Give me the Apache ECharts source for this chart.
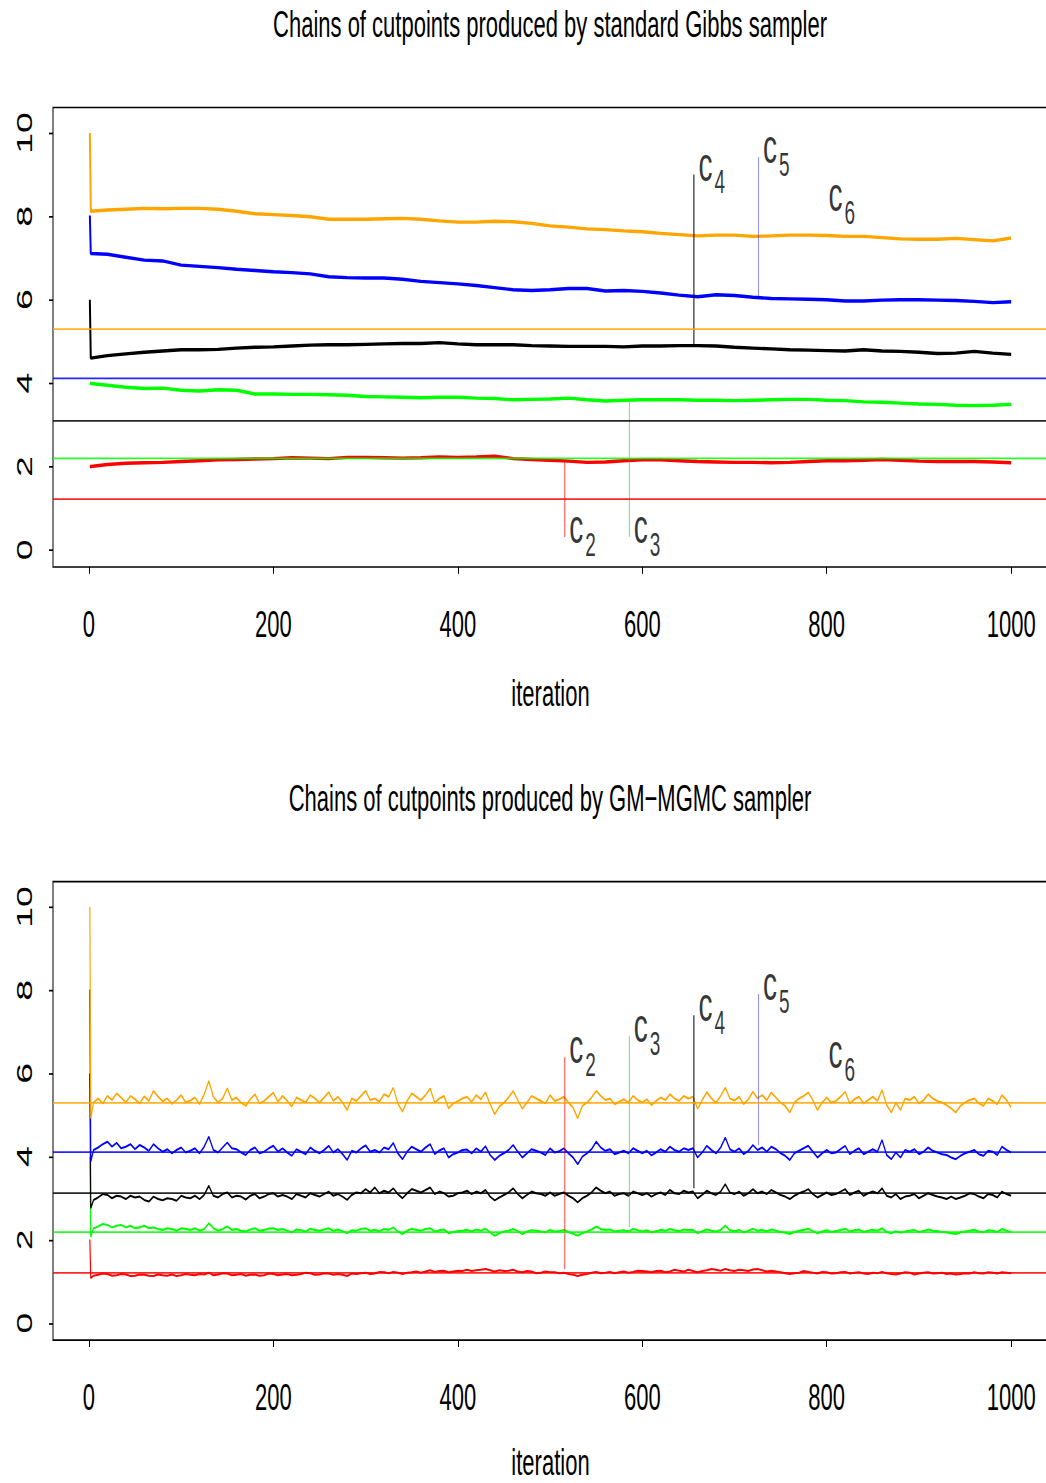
<!DOCTYPE html>
<html>
<head>
<meta charset="utf-8">
<title>Chains of cutpoints</title>
<script src="https://cdn.jsdelivr.net/npm/echarts@6/dist/echarts.min.js"></script>
<style>
    html, body { margin: 0; padding: 0; background: #fff; overflow: hidden; }
    #wrap { width: 1046px; height: 1483px; overflow: hidden; }
    /* the reference picture is stretched vertically, so the chart is drawn flat and scaled */
    #chart { width: 1046px; height: 872px; transform: scaleY(1.700688); transform-origin: 0 0; }
</style>
</head>
<body>
<div id="wrap"><div id="chart"></div></div>
<script>
const FONT = 'Liberation Sans, Arial, Helvetica, sans-serif'

// ---- top panel: standard Gibbs sampler ----
const topIter = [1, 2, 20, 40, 60, 80, 100, 120, 140, 160, 180, 200, 220, 240, 260, 280, 300,
    320, 340, 360, 380, 400, 420, 440, 460, 480, 500, 520, 540, 560, 580, 600, 620, 640, 660,
    680, 700, 720, 740, 760, 780, 800, 820, 840, 860, 880, 900, 920, 940, 960, 980, 1000]

const topRed = [2.00, 2.00, 2.05, 2.08, 2.09, 2.10, 2.12, 2.14, 2.16, 2.17, 2.18, 2.19, 2.21, 2.20,
    2.19, 2.22, 2.22, 2.21, 2.20, 2.21, 2.23, 2.22, 2.23, 2.25, 2.19, 2.17, 2.15, 2.13, 2.10, 2.11,
    2.14, 2.16, 2.16, 2.14, 2.12, 2.11, 2.10, 2.10, 2.09, 2.10, 2.12, 2.14, 2.14, 2.15, 2.17, 2.15,
    2.13, 2.12, 2.12, 2.12, 2.11, 2.09]
const topGreen = [4.00, 3.99, 3.95, 3.90, 3.87, 3.88, 3.83, 3.81, 3.84, 3.83, 3.74, 3.74, 3.73, 3.73,
    3.72, 3.71, 3.68, 3.67, 3.66, 3.65, 3.66, 3.66, 3.64, 3.63, 3.60, 3.61, 3.62, 3.64, 3.60, 3.57,
    3.59, 3.60, 3.60, 3.60, 3.59, 3.59, 3.58, 3.59, 3.60, 3.61, 3.61, 3.59, 3.58, 3.55, 3.54, 3.52,
    3.50, 3.49, 3.47, 3.46, 3.47, 3.49]
const topBlack = [6.00, 4.60, 4.66, 4.70, 4.74, 4.77, 4.80, 4.80, 4.81, 4.84, 4.86, 4.87, 4.89, 4.91,
    4.92, 4.92, 4.93, 4.94, 4.95, 4.95, 4.97, 4.94, 4.92, 4.92, 4.92, 4.90, 4.89, 4.88, 4.88, 4.88,
    4.87, 4.89, 4.89, 4.90, 4.90, 4.89, 4.86, 4.84, 4.82, 4.80, 4.79, 4.78, 4.77, 4.80, 4.77, 4.76,
    4.74, 4.71, 4.72, 4.76, 4.72, 4.69]
const topBlue = [8.02, 7.11, 7.09, 7.02, 6.95, 6.93, 6.83, 6.80, 6.77, 6.73, 6.70, 6.67, 6.65, 6.62,
    6.55, 6.53, 6.52, 6.52, 6.49, 6.44, 6.41, 6.38, 6.34, 6.29, 6.24, 6.22, 6.24, 6.27, 6.27, 6.21,
    6.22, 6.20, 6.16, 6.11, 6.07, 6.12, 6.10, 6.06, 6.03, 6.02, 6.01, 6.00, 5.97, 5.97, 5.99, 6.00,
    6.00, 5.99, 5.98, 5.96, 5.93, 5.95]
const topOrange = [10.0, 8.12, 8.15, 8.17, 8.19, 8.18, 8.19, 8.19, 8.17, 8.12, 8.06, 8.04, 8.02, 7.99,
    7.93, 7.93, 7.93, 7.94, 7.95, 7.93, 7.89, 7.86, 7.86, 7.88, 7.87, 7.83, 7.77, 7.74, 7.70, 7.68,
    7.65, 7.63, 7.59, 7.56, 7.53, 7.55, 7.55, 7.52, 7.53, 7.55, 7.55, 7.54, 7.52, 7.52, 7.49, 7.46,
    7.45, 7.45, 7.47, 7.44, 7.41, 7.48]

// ---- bottom panel: GM-MGMC sampler ----
const botIter = [1, 2,
    5, 10, 15, 20, 25, 30, 35, 40, 45, 50,
    55, 60, 65, 70, 75, 80, 85, 90, 95, 100,
    105, 110, 115, 120, 125, 130, 135, 140, 145, 150,
    155, 160, 165, 170, 175, 180, 185, 190, 195, 200,
    205, 210, 215, 220, 225, 230, 235, 240, 245, 250,
    255, 260, 265, 270, 275, 280, 285, 290, 295, 300,
    305, 310, 315, 320, 325, 330, 335, 340, 345, 350,
    355, 360, 365, 370, 375, 380, 385, 390, 395, 400,
    405, 410, 415, 420, 425, 430, 435, 440, 445, 450,
    455, 460, 465, 470, 475, 480, 485, 490, 495, 500,
    505, 510, 515, 520, 525, 530, 535, 540, 545, 550,
    555, 560, 565, 570, 575, 580, 585, 590, 595, 600,
    605, 610, 615, 620, 625, 630, 635, 640, 645, 650,
    655, 660, 665, 670, 675, 680, 685, 690, 695, 700,
    705, 710, 715, 720, 725, 730, 735, 740, 745, 750,
    755, 760, 765, 770, 775, 780, 785, 790, 795, 800,
    805, 810, 815, 820, 825, 830, 835, 840, 845, 850,
    855, 860, 865, 870, 875, 880, 885, 890, 895, 900,
    905, 910, 915, 920, 925, 930, 935, 940, 945, 950,
    955, 960, 965, 970, 975, 980, 985, 990, 995, 1000]

const botRed = [2.01, 1.08,
    1.14, 1.16, 1.19, 1.18, 1.14, 1.15, 1.18, 1.17, 1.13, 1.14,
    1.17, 1.16, 1.14, 1.13, 1.17, 1.15, 1.14, 1.17, 1.13, 1.15,
    1.18, 1.16, 1.15, 1.18, 1.17, 1.21, 1.15, 1.17, 1.20, 1.19,
    1.15, 1.16, 1.18, 1.14, 1.16, 1.17, 1.14, 1.15, 1.19, 1.18,
    1.15, 1.17, 1.18, 1.15, 1.16, 1.18, 1.21, 1.20, 1.16, 1.17,
    1.20, 1.19, 1.16, 1.18, 1.16, 1.13, 1.19, 1.18, 1.20, 1.21,
    1.18, 1.19, 1.23, 1.22, 1.20, 1.23, 1.21, 1.18, 1.21, 1.22,
    1.24, 1.21, 1.24, 1.27, 1.23, 1.25, 1.26, 1.22, 1.24, 1.26,
    1.25, 1.28, 1.25, 1.27, 1.28, 1.30, 1.27, 1.24, 1.27, 1.25,
    1.26, 1.28, 1.24, 1.22, 1.25, 1.24, 1.20, 1.21, 1.24, 1.22,
    1.22, 1.20, 1.21, 1.18, 1.16, 1.13, 1.16, 1.18, 1.21, 1.23,
    1.20, 1.21, 1.23, 1.20, 1.22, 1.24, 1.21, 1.23, 1.26, 1.25,
    1.24, 1.22, 1.25, 1.26, 1.22, 1.24, 1.28, 1.26, 1.24, 1.28,
    1.25, 1.22, 1.25, 1.27, 1.30, 1.28, 1.26, 1.30, 1.27, 1.25,
    1.28, 1.27, 1.25, 1.29, 1.30, 1.27, 1.24, 1.26, 1.24, 1.22,
    1.20, 1.18, 1.20, 1.21, 1.25, 1.23, 1.21, 1.19, 1.23, 1.22,
    1.19, 1.20, 1.22, 1.23, 1.19, 1.21, 1.22, 1.19, 1.18, 1.21,
    1.20, 1.23, 1.20, 1.18, 1.17, 1.19, 1.22, 1.21, 1.17, 1.19,
    1.21, 1.22, 1.19, 1.20, 1.21, 1.18, 1.19, 1.17, 1.18, 1.20,
    1.19, 1.22, 1.20, 1.19, 1.22, 1.21, 1.19, 1.22, 1.21, 1.20]
const botGreen = [4.00, 2.07,
    2.28, 2.32, 2.38, 2.36, 2.30, 2.34, 2.36, 2.30, 2.34, 2.28,
    2.30, 2.34, 2.28, 2.30, 2.26, 2.24, 2.28, 2.26, 2.22, 2.28,
    2.26, 2.24, 2.28, 2.22, 2.26, 2.40, 2.28, 2.22, 2.26, 2.32,
    2.24, 2.26, 2.22, 2.20, 2.25, 2.28, 2.22, 2.24, 2.27, 2.28,
    2.24, 2.26, 2.22, 2.18, 2.25, 2.23, 2.20, 2.27, 2.24, 2.22,
    2.25, 2.28, 2.22, 2.25, 2.21, 2.16, 2.23, 2.22, 2.26, 2.28,
    2.22, 2.24, 2.21, 2.26, 2.24, 2.30, 2.20, 2.14, 2.22, 2.27,
    2.24, 2.22, 2.26, 2.28, 2.20, 2.23, 2.25, 2.16, 2.19, 2.21,
    2.22, 2.24, 2.20, 2.25, 2.22, 2.27, 2.18, 2.10, 2.16, 2.20,
    2.22, 2.26, 2.21, 2.14, 2.20, 2.23, 2.22, 2.20, 2.18, 2.24,
    2.20, 2.21, 2.24, 2.19, 2.15, 2.10, 2.16, 2.20, 2.25, 2.32,
    2.26, 2.24, 2.25, 2.20, 2.22, 2.23, 2.20, 2.26, 2.23, 2.20,
    2.23, 2.18, 2.21, 2.24, 2.22, 2.26, 2.23, 2.21, 2.25, 2.23,
    2.24, 2.16, 2.21, 2.25, 2.22, 2.20, 2.24, 2.34, 2.23, 2.21,
    2.24, 2.18, 2.22, 2.27, 2.22, 2.24, 2.21, 2.25, 2.22, 2.19,
    2.17, 2.14, 2.19, 2.22, 2.24, 2.27, 2.21, 2.16, 2.20, 2.23,
    2.19, 2.21, 2.24, 2.27, 2.20, 2.23, 2.25, 2.19, 2.22, 2.24,
    2.22, 2.28, 2.19, 2.16, 2.21, 2.17, 2.20, 2.22, 2.24, 2.19,
    2.21, 2.25, 2.22, 2.21, 2.19, 2.18, 2.16, 2.14, 2.18, 2.20,
    2.22, 2.24, 2.20, 2.18, 2.23, 2.22, 2.19, 2.26, 2.22, 2.19]
const botBlack = [6.00, 2.76,
    2.96, 3.02, 3.10, 3.08, 3.00, 3.06, 3.04, 2.98, 3.06, 3.02,
    3.04, 2.96, 2.92, 3.04, 2.98, 2.95, 3.00, 2.98, 2.94, 3.06,
    3.02, 3.00, 3.06, 2.98, 3.08, 3.30, 3.06, 3.02, 3.10, 3.14,
    3.02, 3.06, 3.04, 2.97, 3.06, 3.10, 3.00, 3.04, 3.10, 3.12,
    3.04, 3.08, 3.04, 2.98, 3.10, 3.06, 3.02, 3.12, 3.08, 3.04,
    3.10, 3.16, 3.06, 3.10, 3.04, 2.96, 3.08, 3.14, 3.12, 3.22,
    3.14, 3.26, 3.12, 3.18, 3.14, 3.24, 3.10, 3.00, 3.12, 3.22,
    3.18, 3.14, 3.20, 3.26, 3.10, 3.16, 3.12, 3.04, 3.06, 3.12,
    3.14, 3.18, 3.10, 3.16, 3.12, 3.20, 3.04, 2.95, 3.02, 3.08,
    3.14, 3.24, 3.10, 3.00, 3.08, 3.16, 3.12, 3.10, 3.06, 3.14,
    3.06, 3.10, 3.14, 3.06, 3.00, 2.90, 3.00, 3.06, 3.14, 3.26,
    3.18, 3.12, 3.16, 3.06, 3.10, 3.12, 3.06, 3.16, 3.12, 3.08,
    3.12, 3.04, 3.10, 3.14, 3.08, 3.20, 3.12, 3.10, 3.18, 3.14,
    3.16, 3.00, 3.08, 3.18, 3.12, 3.08, 3.16, 3.34, 3.14, 3.10,
    3.16, 3.06, 3.12, 3.22, 3.12, 3.16, 3.10, 3.20, 3.14, 3.08,
    3.04, 2.98, 3.06, 3.12, 3.16, 3.22, 3.10, 3.02, 3.08, 3.14,
    3.08, 3.10, 3.16, 3.22, 3.08, 3.14, 3.18, 3.06, 3.12, 3.16,
    3.12, 3.24, 3.06, 3.02, 3.10, 2.98, 3.04, 3.06, 3.10, 3.00,
    3.06, 3.12, 3.08, 3.04, 3.02, 2.98, 3.04, 2.98, 3.02, 3.06,
    3.12, 3.10, 3.04, 3.00, 3.10, 3.08, 3.02, 3.16, 3.10, 3.06]
const botBlue = [8.02, 3.88,
    4.16, 4.22, 4.30, 4.36, 4.24, 4.33, 4.20, 4.24, 4.30, 4.18,
    4.28, 4.22, 4.14, 4.30, 4.20, 4.12, 4.18, 4.08, 4.16, 4.22,
    4.10, 4.14, 4.20, 4.08, 4.24, 4.48, 4.16, 4.10, 4.22, 4.34,
    4.20, 4.18, 4.10, 4.04, 4.16, 4.22, 4.08, 4.12, 4.20, 4.26,
    4.12, 4.20, 4.10, 4.02, 4.18, 4.12, 4.06, 4.22, 4.14, 4.08,
    4.16, 4.26, 4.10, 4.18, 4.06, 3.92, 4.14, 4.10, 4.20, 4.27,
    4.12, 4.16, 4.10, 4.22, 4.18, 4.33, 4.08, 3.94, 4.12, 4.24,
    4.18, 4.12, 4.22, 4.30, 4.06, 4.15, 4.20, 3.98, 4.06, 4.10,
    4.16, 4.17, 4.08, 4.20, 4.12, 4.25, 4.04, 3.92, 4.02, 4.08,
    4.16, 4.28, 4.12, 3.98, 4.08, 4.18, 4.14, 4.10, 4.04, 4.20,
    4.10, 4.13, 4.20, 4.08, 3.98, 3.82, 4.00, 4.08, 4.18, 4.36,
    4.22, 4.14, 4.18, 4.06, 4.10, 4.14, 4.08, 4.20, 4.14, 4.08,
    4.14, 4.03, 4.10, 4.18, 4.12, 4.24, 4.16, 4.12, 4.20, 4.16,
    4.20, 3.98, 4.10, 4.26, 4.16, 4.08, 4.22, 4.46, 4.18, 4.12,
    4.20, 4.06, 4.14, 4.28, 4.16, 4.22, 4.12, 4.24, 4.18, 4.08,
    4.02, 3.92, 4.08, 4.14, 4.20, 4.26, 4.12, 3.98, 4.08, 4.16,
    4.08, 4.10, 4.18, 4.26, 4.06, 4.14, 4.20, 4.06, 4.12, 4.18,
    4.12, 4.40, 4.04, 3.94, 4.10, 3.98, 4.16, 4.12, 4.18, 4.06,
    4.12, 4.22, 4.14, 4.10, 4.06, 4.04, 3.98, 3.94, 4.02, 4.08,
    4.12, 4.16, 4.06, 4.02, 4.14, 4.12, 4.04, 4.24, 4.16, 4.10]
const botOrange = [10.0, 4.92,
    5.30, 5.40, 5.28, 5.46, 5.36, 5.52, 5.42, 5.30, 5.46, 5.38,
    5.28, 5.45, 5.34, 5.58, 5.44, 5.33, 5.40, 5.27, 5.36, 5.48,
    5.30, 5.35, 5.42, 5.26, 5.50, 5.82, 5.44, 5.30, 5.40, 5.64,
    5.36, 5.42, 5.30, 5.22, 5.38, 5.50, 5.28, 5.34, 5.44, 5.54,
    5.32, 5.46, 5.34, 5.21, 5.42, 5.36, 5.30, 5.48, 5.40, 5.30,
    5.42, 5.55, 5.34, 5.44, 5.30, 5.12, 5.40, 5.34, 5.46, 5.58,
    5.36, 5.40, 5.32, 5.50, 5.44, 5.66, 5.28, 5.08, 5.34, 5.52,
    5.44, 5.36, 5.48, 5.64, 5.30, 5.40, 5.46, 5.16, 5.28, 5.33,
    5.40, 5.44, 5.32, 5.48, 5.38, 5.55, 5.26, 5.02, 5.20, 5.30,
    5.42, 5.58, 5.36, 5.15, 5.30, 5.46, 5.40, 5.34, 5.28, 5.48,
    5.34, 5.38, 5.44, 5.30, 5.18, 4.92, 5.22, 5.30, 5.42, 5.58,
    5.46, 5.36, 5.40, 5.26, 5.32, 5.38, 5.30, 5.46, 5.36, 5.30,
    5.38, 5.24, 5.34, 5.42, 5.36, 5.50, 5.40, 5.34, 5.46, 5.40,
    5.44, 5.15, 5.36, 5.55, 5.40, 5.30, 5.46, 5.66, 5.40, 5.35,
    5.44, 5.26, 5.38, 5.56, 5.40, 5.48, 5.36, 5.54, 5.42, 5.30,
    5.22, 5.06, 5.30, 5.40, 5.46, 5.54, 5.36, 5.12, 5.30, 5.42,
    5.30, 5.34, 5.44, 5.56, 5.28, 5.38, 5.44, 5.28, 5.36, 5.44,
    5.34, 5.60, 5.24, 5.06, 5.30, 5.12, 5.40, 5.36, 5.44, 5.28,
    5.36, 5.50, 5.40, 5.34, 5.30, 5.24, 5.16, 5.06, 5.22, 5.30,
    5.36, 5.40, 5.28, 5.22, 5.40, 5.34, 5.26, 5.48, 5.36, 5.18]

// true cutpoints c2..c6 (horizontal lines)
const trueCuts = [1.21, 2.21, 3.12, 4.11, 5.31]
const chainColors = ['#ff0000', '#00ff00', '#000000', '#0000ff', '#ffa500']
const cutLineColors = ['rgba(255,0,0,0.75)', 'rgba(0,220,0,0.6)', '#000000', 'rgba(0,0,255,0.45)', '#ffa500']

// label segments: c2..c6
const labelNames = ['2', '3', '4', '5', '6']
const labelIter = [516, 586, 656, 726, 797]
const topLabelFrom = [2.10, 3.55, 4.92, 6.07, null]
const topLabelTo = [0.31, 0.31, 9.00, 9.42, 8.27]
const botLabelFrom = [1.30, 2.31, 3.24, 4.28, null]
const botLabelTo = [6.39, 6.90, 7.40, 7.91, 6.27]

const xTicks = [0, 200, 400, 600, 800, 1000]
const yTicks = [0, 2, 4, 6, 8, 10]

const chart = echarts.init(document.getElementById('chart'), null, { renderer: 'svg' })

function chainSeries(iter, vals, color, width, gi) {
    return {
        type: 'line',
        xAxisIndex: gi,
        yAxisIndex: gi,
        data: iter.map((x, i) => [x, vals[i]]),
        showSymbol: false,
        symbol: 'none',
        silent: true,
        lineStyle: { color: color, width: width },
        z: 3
    }
}

function refLineSeries(gi) {
    return {
        type: 'line',
        xAxisIndex: gi,
        yAxisIndex: gi,
        data: [],
        silent: true,
        markLine: {
            symbol: ['none', 'none'],
            silent: true,
            label: { show: false },
            data: trueCuts.map((v, i) => ({
                yAxis: v,
                lineStyle: { color: chainColors[i], width: 1, type: 'solid', opacity: 0.85 }
            }))
        },
        z: 2
    }
}

function labelSeries(from, to, gi) {
    let out = []
    labelIter.forEach((x, i) => {
        if (from[i] === null) return
        out.push({
            type: 'line',
            xAxisIndex: gi,
            yAxisIndex: gi,
            data: [[x, from[i]], [x, to[i]]],
            symbol: 'none',
            silent: true,
            lineStyle: { color: cutLineColors[i], width: 1 },
            z: 4
        })
    })
    out.push({
        type: 'scatter',
        xAxisIndex: gi,
        yAxisIndex: gi,
        data: labelIter.map((x, i) => [x, to[i]]),
        symbolSize: 1,
        silent: true,
        itemStyle: { color: 'rgba(0,0,0,0)' },
        label: {
            show: true,
            position: 'right',
            distance: 4,
            offset: [0, -6],
            formatter: p => '{c|c}{s|' + labelNames[p.dataIndex] + '}',
            rich: {
                c: { fontSize: 28, fontFamily: FONT, color: '#000', lineHeight: 40 },
                s: { fontSize: 19, fontFamily: FONT, color: '#000', lineHeight: 19, verticalAlign: 'bottom', padding: [0, 0, 0, 2] }
            }
        },
        z: 5
    })
    return out
}

function xAxisCfg(gi, nameGap) {
    return {
        type: 'value',
        gridIndex: gi,
        min: -38.96,
        max: 1039.96,
        axisLine: { show: false, onZero: false },
        splitLine: { show: false },
        axisTick: { show: true, length: 4, lineStyle: { color: '#000' }, customValues: xTicks },
        axisLabel: {
            customValues: xTicks, margin: 22.5, fontSize: 22, fontFamily: FONT, color: '#000',
            formatter: v => String(v)
        },
        name: 'iteration',
        nameLocation: 'middle',
        nameGap: nameGap,
        nameTextStyle: { fontSize: 22, lineHeight: 22, fontFamily: FONT, color: '#000' }
    }
}

function yAxisCfg(gi) {
    return {
        type: 'value',
        gridIndex: gi,
        min: -0.41,
        max: 10.61,
        axisLine: { show: false, onZero: false },
        splitLine: { show: false },
        axisTick: { show: true, length: 4, lineStyle: { color: '#000' }, customValues: yTicks },
        axisLabel: { customValues: yTicks, rotate: 90, margin: 18, fontSize: 22, fontFamily: FONT, color: '#000' }
    }
}

let series = []
series.push(refLineSeries(0))
series.push(chainSeries(topIter, topRed, chainColors[0], 2, 0))
series.push(chainSeries(topIter, topGreen, chainColors[1], 2, 0))
series.push(chainSeries(topIter, topBlack, chainColors[2], 2, 0))
series.push(chainSeries(topIter, topBlue, chainColors[3], 2, 0))
series.push(chainSeries(topIter, topOrange, chainColors[4], 2, 0))
series = series.concat(labelSeries(topLabelFrom, topLabelTo, 0))

series.push(refLineSeries(1))
series.push(chainSeries(botIter, botRed, chainColors[0], 1.2, 1))
series.push(chainSeries(botIter, botGreen, chainColors[1], 1.2, 1))
series.push(chainSeries(botIter, botBlack, chainColors[2], 1.2, 1))
series.push(chainSeries(botIter, botBlue, chainColors[3], 1.2, 1))
series.push(chainSeries(botIter, botOrange, chainColors[4], 1.2, 1))
series = series.concat(labelSeries(botLabelFrom, botLabelTo, 1))

const option = {
    animation: false,
    backgroundColor: '#fff',
    title: [
        {
            text: 'Chains of cutpoints produced by standard Gibbs sampler',
            left: 550, top: 3.3, textAlign: 'center', padding: 0,
            textStyle: { fontSize: 22, fontWeight: 'normal', fontFamily: FONT, color: '#000' }
        },
        {
            text: 'Chains of cutpoints produced by GM\u2212MGMC sampler',
            left: 550, top: 458.5, textAlign: 'center', padding: 0,
            textStyle: { fontSize: 22, fontWeight: 'normal', fontFamily: FONT, color: '#000' }
        }
    ],
    grid: [
        { left: 53, top: 63.2, width: 995, height: 270.2, outerBoundsMode: 'none', show: true, borderColor: '#000', borderWidth: 1, backgroundColor: 'transparent' },
        { left: 53, top: 518.4, width: 995, height: 269.6, outerBoundsMode: 'none', show: true, borderColor: '#000', borderWidth: 1, backgroundColor: 'transparent' }
    ],
    xAxis: [xAxisCfg(0, 63), xAxisCfg(1, 60.8)],
    yAxis: [yAxisCfg(0), yAxisCfg(1)],
    series: series
}

chart.setOption(option)
</script>
</body>
</html>
